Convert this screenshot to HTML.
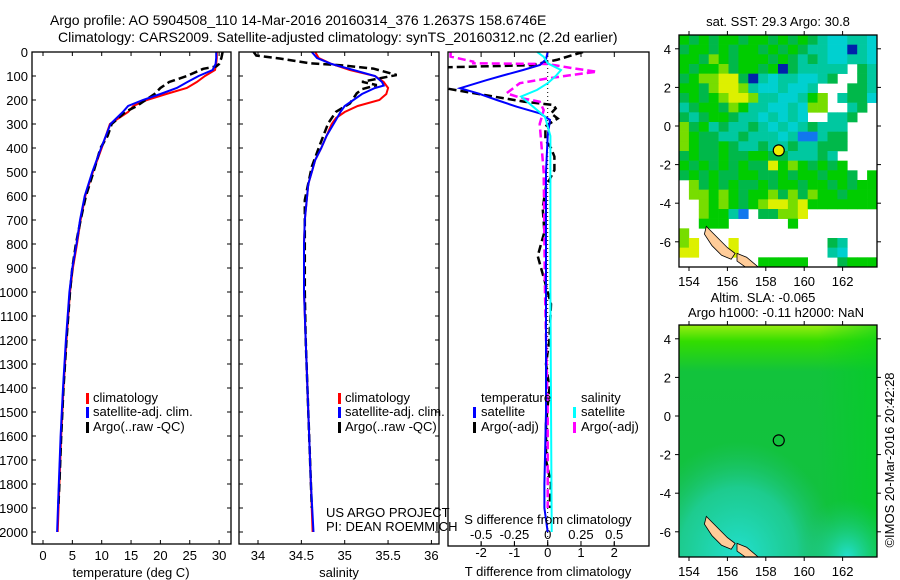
<!DOCTYPE html>
<html><head><meta charset="utf-8"><style>
html,body{margin:0;padding:0;background:#fff;}
svg{display:block;font-family:"Liberation Sans",Arial,sans-serif;}
text{fill:#000;font-size:13px;}
</style></head><body>
<svg id="fig" width="900" height="580" viewBox="0 0 900 580">
<text x="50" y="25" style="font-size:14px">Argo profile: AO 5904508_110 14-Mar-2016 20160314_376 1.2637S 158.6746E</text>
<text x="58" y="42" style="font-size:14px">Climatology: CARS2009. Satellite-adjusted climatology: synTS_20160312.nc (2.2d earlier)</text>
<defs>
<clipPath id="c1"><rect x="32" y="52" width="199" height="492"/></clipPath>
<clipPath id="c2"><rect x="239" y="52" width="200" height="492"/></clipPath>
<clipPath id="c3"><rect x="448" y="52" width="201" height="494"/></clipPath>
<clipPath id="cm1"><rect x="679" y="35" width="198" height="232"/></clipPath>
<clipPath id="cm2"><rect x="679" y="325" width="198" height="232"/></clipPath>
<linearGradient id="g2top" x1="0" y1="0" x2="0" y2="1"><stop offset="0" stop-color="#99ee11"/><stop offset="0.07" stop-color="#33dd00"/><stop offset="0.2" stop-color="#12c33c"/><stop offset="1" stop-color="#12c040"/></linearGradient>
<linearGradient id="g2right" x1="0" y1="0" x2="1" y2="0"><stop offset="0.7" stop-color="#00d020" stop-opacity="0"/><stop offset="1" stop-color="#00d020" stop-opacity="0.6"/></linearGradient>
<radialGradient id="g2bl" cx="0.3" cy="1" r="0.5"><stop offset="0" stop-color="#22e0d0"/><stop offset="0.6" stop-color="#22d0b0" stop-opacity="0.7"/><stop offset="1" stop-color="#22c080" stop-opacity="0"/></radialGradient>
<radialGradient id="g2br" cx="0.85" cy="1" r="0.25"><stop offset="0" stop-color="#22e0d0"/><stop offset="1" stop-color="#22c080" stop-opacity="0"/></radialGradient>
</defs>
<g id="layer"></g>
</svg>
<script>
// ---------- data ----------
const tempDepthClim=[0,25,50,75,100,125,150,175,200,225,250,300,400,500,600,700,800,900,1000,1200,1400,1600,1800,2000];
const tempClim=[29.6,29.6,29.5,29.3,27.6,26.2,24.5,21,17.7,15.4,14.5,11.4,10,8.5,7.2,6.4,5.8,5.1,4.6,4.0,3.5,3.1,2.8,2.5];
const tempSat=[29.5,29.5,29.4,28.9,26.5,24.6,22.8,20,17,14.5,13.6,11.5,9.9,8.4,7.1,6.3,5.7,5.0,4.5,3.9,3.4,3.0,2.7,2.4];
const tempDepthArgo=[0,25,50,60,70,100,125,150,175,200,225,250,300,350,400,500,600,700,800,900,1000,1200,1400,1600,1800,1900];
const tempArgo=[30.6,30.4,30.0,29.5,27.3,24.5,21.5,20,19,17.5,16,14,11.7,11,9.8,8.6,7.3,6.4,5.6,5.0,4.6,4.0,3.5,3.1,2.8,2.6];

const salDepthClim=[0,25,50,75,100,125,150,175,200,225,250,275,300,350,400,450,500,550,700,800,1000,1200,1500,1800,2000];
const salClim=[34.66,34.7,34.85,35.06,35.35,35.45,35.5,35.48,35.4,35.15,35.0,34.9,34.85,34.79,34.73,34.66,34.62,34.58,34.54,34.53,34.53,34.55,34.58,34.61,34.63];
const salDepthSat=[0,25,50,75,100,125,140,150,175,200,225,250,283,350,400,450,500,550,700,800,1000,1200,1500,1800,2000];
const salSat=[34.62,34.68,34.85,35.1,35.35,35.43,35.45,35.35,35.2,35.1,35.0,34.95,34.9,34.79,34.73,34.66,34.62,34.58,34.54,34.53,34.53,34.55,34.58,34.61,34.64];
const salDepthArgo=[0,15,27,47,55,69,96,110,124,138,155,172,214,249,297,381,478,617,800,1000,1200,1500,1900];
const salArgo=[33.95,33.98,34.25,34.6,34.95,35.33,35.6,35.4,35.2,35.37,35.2,35.14,35.06,34.9,34.81,34.72,34.62,34.54,34.54,34.54,34.55,34.58,34.62];

const diffDepthSatT=[0,30,54,75,100,117,151,172,200,228,256,283,350,500,1000,1500,1800,1900,2000];
const diffSatT=[0,-0.05,-0.23,-0.74,-1.4,-1.83,-2.63,-2.1,-1.53,-0.93,-0.23,0.07,0,-0.05,-0.05,-0.05,-0.1,-0.1,0];
const diffDepthSatS=[0,20,47,75,100,130,158,186,228,270,350,1000,2000];
const diffSatS=[-0.08,-0.03,0,0.1,0.06,0,-0.08,-0.2,-0.11,-0.02,0.02,0.02,0.03];
const diffDepthArgoT=[0,33,55,64,100,140,158,179,207,221,235,256,277,290,310,367,400,436,492,561,650,750,850,950,1050,1200,1300,1400,1550,1700,1800,1900];
const diffArgoT=[1.06,0.27,-0.5,-3.2,-4.5,-3.5,-2.8,-1.9,-0.7,0.17,0.24,0.1,0.3,0.15,-0.07,-0.07,0.1,0.2,0.2,-0.05,-0.15,-0.1,-0.3,-0.1,0.1,0.05,-0.05,0.05,-0.05,-0.05,0.1,0.05];
const diffDepthArgoS=[0,19,40,47,50,68,82,89,110,130,172,193,207,242,300,500,1000,1500,1900];
const diffArgoS=[-0.73,-0.73,-0.56,-0.56,0,0.19,0.37,0.27,0,-0.21,-0.31,-0.19,-0.06,-0.03,-0.06,-0.03,-0.02,0,0];

const depthTicks=[0,100,200,300,400,500,600,700,800,900,1000,1100,1200,1300,1400,1500,1600,1700,1800,1900,2000];
const tempTicks=[0,5,10,15,20,25,30];
const salTicks=[34,34.5,35,35.5,36];
const tdiffTicks=[-2,-1,0,1,2];
const sdiffTicks=[-0.5,-0.25,0,0.25,0.5];
const sdiffLabels=["-0.5","-0.25","0","0.25","0.5"];
const lonTicks=[154,156,158,160,162];
const latTicks=[4,2,0,-2,-4,-6];
const argoLon=158.6746, argoLat=-1.2637;
const sstRows=[
"GDGDGGDGGDGDGDTCCTTC","DGGDGDGGDGDGDTTCCNTC","GGDLGDGGGDGDTDTCCTTC","GDGGLDGGDGNDTTTTT.DT",
"DGLLYYDNTCTTCCTD..DT","GGDLYYLTCCTCCT...DDT","DGDGLYYLTTCCTGL.TDDC","TDGGDLGTTCCTCLL..TD.",
"DTDGGDTTCTCTC..TTD..","LDGTDTTDTCTCTDTTT...","LGDDTTDTTTCTBBTDD...","LGDDGDTTDTTDTTDDD...",
"DGDDGDDGGDDTTTDT....","GDGDGDGDDYGLGDGDG...","DGDGDDGGDDGDGGDGGD.G",".LDGDGDDGDGGDGGDGDGG",
".LLGLGDGGLDLDLGGDGGG","..LGLGDGLYYLYGGGGGGG","..LGGTB.DDLLY.......","..GGG......G........",
"L...................","LY...Y.........DT...","YY...Y.........TC...","........GGGGG...DGGG"];
const sstColors={G:"#00cc00",D:"#00b84a",T:"#00c8a0",C:"#00d0d0",L:"#77dd00",Y:"#ddf000",B:"#1177ee",N:"#0022aa"};

// ---------- helpers ----------
const NS="http://www.w3.org/2000/svg";
const root=document.getElementById('layer');
function mk(tag,attrs,parent){const e=document.createElementNS(NS,tag);for(const k in attrs)e.setAttribute(k,attrs[k]);(parent||root).appendChild(e);return e;}
const yD=d=>52+d*0.24;
const xT=t=>43+t*5.87;
const xS=s=>258+(s-34)*86.7;
const xDT=v=>547.7+v*33.3;
const xDS=v=>547.7+v*133;
const mx=l=>689+(l-154)*19.2;
const my1=l=>126-l*19.3;
const my2=l=>416-l*19.3;

function line(depths,vals,xf,color,w,dash,clip,name){
  const pts=depths.map((d,i)=>xf(vals[i]).toFixed(1)+","+yD(d).toFixed(1)).join(" ");
  const el=mk('polyline',{points:pts,fill:"none",stroke:color,"stroke-width":w,"clip-path":"url(#"+clip+")"});
  if(dash)el.setAttribute('stroke-dasharray',dash);
  
  
}
function txt(x,y,s,anchor,name,extra){
  const el=mk('text',Object.assign({x:x,y:y,"text-anchor":anchor||"start"},extra||{}));
  el.textContent=s;
  
  
  return el;
}
function frame(x,y,w,h,name){
  const el=mk('rect',{x:x,y:y,width:w,height:h,fill:"none",stroke:"#000","stroke-width":1.3});
  
  
}
function tick(x1,y1,x2,y2){
  const el=mk('line',{x1:x1,y1:y1,x2:x2,y2:y2,stroke:"#000","stroke-width":1});
  
  
}
function legMark(x,y,color){
  const el=mk('rect',{x:x,y:y-9,width:3,height:11,fill:color});
  
  
}

// ---------- panel 1 ----------
depthTicks.forEach(d=>{tick(32,yD(d),36,yD(d));tick(227,yD(d),231,yD(d));txt(28,yD(d)+5,String(d),"end","depth-tick-label");});
tempTicks.forEach(t=>{tick(xT(t),544,xT(t),540);tick(xT(t),52,xT(t),56);txt(xT(t),560,String(t),"middle","temperature-tick-label");});
line(tempDepthClim,tempClim,xT,"#ff0000",2,null,"c1","temp-climatology-line");
line(tempDepthArgo,tempArgo,xT,"#000",2.5,"8,4","c1","temp-argo-line");
line(tempDepthClim,tempSat,xT,"#0000ff",2,null,"c1","temp-satellite-line");
frame(32,52,199,492,"temperature-panel");
txt(131,577,"temperature (deg C)","middle","temperature-axis-title");
legMark(86,402,"#ff0000");txt(93,402,"climatology","start","legend-climatology");
legMark(86,416,"#0000ff");txt(93,416,"satellite-adj. clim.","start","legend-satellite");
legMark(86,431,"#000");txt(93,431,"Argo(..raw -QC)","start","legend-argo");

// ---------- panel 2 ----------
depthTicks.forEach(d=>{tick(239,yD(d),243,yD(d));tick(435,yD(d),439,yD(d));});
salTicks.forEach((s,i)=>{tick(xS(s),544,xS(s),540);tick(xS(s),52,xS(s),56);txt(xS(s),560,String(s),"middle","salinity-tick-label");});
line(salDepthClim,salClim,xS,"#ff0000",2,null,"c2","sal-climatology-line");
line(salDepthArgo,salArgo,xS,"#000",2.5,"8,4","c2","sal-argo-line");
line(salDepthSat,salSat,xS,"#0000ff",2,null,"c2","sal-satellite-line");
frame(239,52,200,492,"salinity-panel");
txt(339,577,"salinity","middle","salinity-axis-title");
legMark(338,402,"#ff0000");txt(345,402,"climatology","start","legend-climatology");
legMark(338,416,"#0000ff");txt(345,416,"satellite-adj. clim.","start","legend-satellite");
legMark(338,431,"#000");txt(345,431,"Argo(..raw -QC)","start","legend-argo");
txt(326,517,"US ARGO PROJECT","start","project-label");
txt(326,531,"PI: DEAN ROEMMICH","start","pi-label");

// ---------- panel 3 ----------
tdiffTicks.forEach(t=>{tick(xDT(t),546,xDT(t),541);tick(xDT(t),52,xDT(t),57);txt(xDT(t),557,String(t),"middle","tdiff-tick-label");});
sdiffTicks.forEach((s,i)=>{tick(xDS(s),546,xDS(s),542);txt(xDS(s),539,sdiffLabels[i],"middle","sdiff-tick-label");});
{const z=mk('line',{x1:xDT(0),y1:52,x2:xDT(0),y2:546,stroke:"#000","stroke-width":1,"stroke-dasharray":"1,3"});

}
line(diffDepthArgoT,diffArgoT,xDT,"#000",2.5,"8,4","c3","tdiff-argo-line");
line(diffDepthArgoS,diffArgoS,xDS,"#ff00ff",2.5,"8,4","c3","sdiff-argo-line");
line(diffDepthSatT,diffSatT,xDT,"#0000ff",2,null,"c3","tdiff-satellite-line");
line(diffDepthSatS,diffSatS,xDS,"#00ffff",2,null,"c3","sdiff-satellite-line");
frame(448,52,201,494,"difference-panel");
txt(548,524,"S difference from climatology","middle","sdiff-axis-title");
txt(548,576,"T difference from climatology","middle","tdiff-axis-title");
txt(481,402,"temperature","start","legend-temperature-header");
legMark(473,416,"#0000ff");txt(481,416,"satellite","start","legend-t-satellite");
legMark(473,431,"#000");txt(481,431,"Argo(-adj)","start","legend-t-argo");
txt(581,402,"salinity","start","legend-salinity-header");
legMark(573,416,"#00ffff");txt(581,416,"satellite","start","legend-s-satellite");
legMark(573,431,"#ff00ff");txt(581,431,"Argo(-adj)","start","legend-s-argo");

// ---------- map 1 ----------
const cw=198/20, ch=232/24;
sstRows.forEach((row,r)=>{for(let c=0;c<20;c++){const k=row[c];if(!k||k===".")continue;
  const el=mk('rect',{x:(679+c*cw).toFixed(2),y:(35+r*ch).toFixed(2),width:(cw+0.3).toFixed(2),height:(ch+0.3).toFixed(2),fill:sstColors[k],"clip-path":"url(#cm1)"});
  
  }});
function land(myf,clip,name){
  const pts=[[154.9,-5.2],[155.3,-5.6],[156.0,-6.3],[156.4,-6.6],[156.2,-6.9],[155.7,-6.7],[155.2,-6.2],[154.8,-5.6]];
  const el=mk('polygon',{points:pts.map(p=>mx(p[0]).toFixed(1)+","+myf(p[1]).toFixed(1)).join(" "),fill:"#ffcc99",stroke:"#000","stroke-width":0.8,"clip-path":"url(#"+clip+")"});
  
  
  const pts2=[[156.5,-6.6],[157.0,-6.8],[157.6,-7.3],[157.0,-7.35],[156.5,-7.0]];
  const el2=mk('polygon',{points:pts2.map(p=>mx(p[0]).toFixed(1)+","+myf(p[1]).toFixed(1)).join(" "),fill:"#ffcc99",stroke:"#000","stroke-width":0.8,"clip-path":"url(#"+clip+")"});
  
  
}
land(my1,"cm1","bougainville-land-sst");
{const m=mk('circle',{cx:mx(argoLon),cy:my1(argoLat),r:5.5,fill:"#eeee00",stroke:"#000","stroke-width":1.2});

}
frame(679,35,198,232,"sst-map");
lonTicks.forEach(l=>{tick(mx(l),35,mx(l),31);tick(mx(l),267,mx(l),271);txt(mx(l),286,String(l),"middle","sst-lon-label");});
latTicks.forEach(l=>{tick(675,my1(l),679,my1(l));tick(877,my1(l),881,my1(l));txt(671,my1(l)+5,String(l),"end","sst-lat-label");});
txt(778,26,"sat. SST: 29.3 Argo: 30.8","middle","sst-map-title");

// ---------- map 2 ----------
{const a=mk('rect',{x:679,y:325,width:198,height:232,fill:"url(#g2top)"});


const r=mk('rect',{x:679,y:325,width:198,height:232,fill:"url(#g2right)"});


const b=mk('rect',{x:679,y:325,width:198,height:232,fill:"url(#g2bl)"});


const c=mk('rect',{x:679,y:325,width:198,height:232,fill:"url(#g2br)"});

}
land(my2,"cm2","bougainville-land-sla");
{const m=mk('circle',{cx:mx(argoLon),cy:my2(argoLat),r:5.5,fill:"none",stroke:"#000","stroke-width":1.2});

}
frame(679,325,198,232,"sla-map");
lonTicks.forEach(l=>{tick(mx(l),325,mx(l),321);tick(mx(l),557,mx(l),561);txt(mx(l),576,String(l),"middle","sla-lon-label");});
latTicks.forEach(l=>{tick(675,my2(l),679,my2(l));tick(877,my2(l),881,my2(l));txt(671,my2(l)+5,String(l),"end","sla-lat-label");});
txt(763,302,"Altim. SLA: -0.065","middle","sla-map-title");
txt(776,317,"Argo h1000: -0.11 h2000: NaN","middle","sla-map-subtitle");
txt(0,0,"©IMOS 20-Mar-2016 20:42:28","middle","imos-credit",{transform:"translate(894,460) rotate(-90)"});
</script>
</body></html>
